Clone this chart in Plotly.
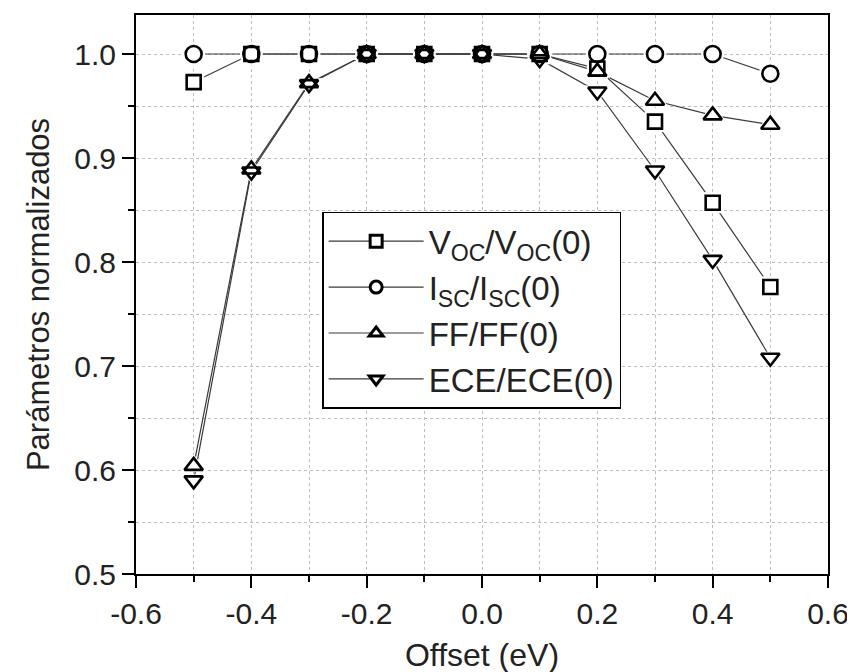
import plotly.graph_objects as go

# ─── Data ────────────────────────────────────────────────────────────

offset = [-0.5, -0.4, -0.3, -0.2, -0.1, 0.0, 0.1, 0.2, 0.3, 0.4, 0.5]

voc = [0.973, 1.0, 1.0, 1.0, 1.0, 1.0, 1.0, 0.986, 0.935, 0.857, 0.776]
isc = [1.0, 1.0, 1.0, 1.0, 1.0, 1.0, 1.0, 1.0, 1.0, 1.0, 0.981]
ff = [0.604, 0.889, 0.972, 1.0, 1.0, 1.0, 1.0, 0.983, 0.955, 0.941, 0.932]
ece = [0.590, 0.887, 0.971, 1.0, 1.0, 1.0, 0.995, 0.964, 0.888, 0.802, 0.708]

x_tickvals = [-0.6, -0.4, -0.2, 0.0, 0.2, 0.4, 0.6]
x_ticktext = ["-0.6", "-0.4", "-0.2", "0.0", "0.2", "0.4", "0.6"]
y_tickvals = [0.5, 0.6, 0.7, 0.8, 0.9, 1.0]
y_ticktext = ["0.5", "0.6", "0.7", "0.8", "0.9", "1.0"]

# name, values, symbol, marker size
series = [
    ("V<sub>OC</sub>/V<sub>OC</sub>(0)", voc, "square", 14),
    ("I<sub>SC</sub>/I<sub>SC</sub>(0)", isc, "circle", 16),
    ("FF/FF(0)", ff, "triangle-up", 16),
    ("ECE/ECE(0)", ece, "triangle-down", 16),
]

FONT = "Liberation Sans, Arial, sans-serif"
TEXT_COLOR = "#222"
LINE_COLOR = "#3a3a3a"
GRID_COLOR = "#bdbdbd"

fig = go.Figure()

# Layer 1: thin connecting lines
for name, vals, sym, size in series:
    fig.add_trace(go.Scatter(
        x=offset, y=vals, mode="lines",
        line=dict(color=LINE_COLOR, width=1.2),
        showlegend=False, hoverinfo="skip",
    ))

# Layer 2: white halos so the lines stop short of the markers
for name, vals, sym, size in series:
    fig.add_trace(go.Scatter(
        x=offset, y=vals, mode="markers",
        marker=dict(symbol=sym, size=size + 6, color="white",
                    line=dict(color="white", width=1)),
        showlegend=False, hoverinfo="skip",
    ))

# Layer 3: open marker outlines (all visible even where they overlap)
for name, vals, sym, size in series:
    fig.add_trace(go.Scatter(
        x=offset, y=vals, mode="markers", name=name,
        marker=dict(symbol=sym + "-open", size=size, color="black",
                    line=dict(color="black", width=2.6)),
        showlegend=False,
    ))

# Legend-only entries (line + marker)
for name, vals, sym, size in series:
    fig.add_trace(go.Scatter(
        x=[None], y=[None], mode="lines+markers", name=name,
        line=dict(color=LINE_COLOR, width=1.2),
        marker=dict(symbol=sym, size=12, color="white",
                    line=dict(color="black", width=3)),
    ))

axis_common = dict(
    showline=True, linecolor="black", linewidth=2, mirror=True,
    ticks="outside", tickcolor="black", tickwidth=2, ticklen=12,
    showgrid=True, gridcolor=GRID_COLOR, griddash="dot", gridwidth=1,
    zeroline=False, automargin=False,
    tickfont=dict(family=FONT, size=30, color=TEXT_COLOR),
)

minor_common = dict(ticks="outside", ticklen=6, tickwidth=2, tickcolor="black",
                    showgrid=True, gridcolor=GRID_COLOR, griddash="dot", gridwidth=1)

fig.update_xaxes(
    **axis_common,
    range=[-0.6, 0.6],
    tickvals=x_tickvals, ticktext=x_ticktext,
    minor=dict(dtick=0.1, tick0=0, **minor_common),
    title=dict(text="Offset (eV)", font=dict(family=FONT, size=32, color=TEXT_COLOR)),
)
fig.update_yaxes(
    **axis_common,
    range=[0.5, 1.0375],
    tickvals=y_tickvals, ticktext=y_ticktext,
    minor=dict(dtick=0.05, tick0=0, **minor_common),
    title=dict(text="Parámetros normalizados",
               font=dict(family=FONT, size=31, color=TEXT_COLOR)),
)

# the page adds an 8px body margin, so the margins are offset to compensate
fig.update_layout(
    width=855, height=672,
    paper_bgcolor="white", plot_bgcolor="white",
    margin=dict(l=128, r=35, t=7, b=106),
    font=dict(family=FONT, color=TEXT_COLOR),
    legend=dict(
        x=0.269, y=0.648, xanchor="left", yanchor="top",
        bgcolor="white", bordercolor="black", borderwidth=1.5,
        font=dict(family=FONT, size=33, color=TEXT_COLOR),
        itemwidth=95, tracegroupgap=0,
    ),
)

fig.write_html("out.html")
